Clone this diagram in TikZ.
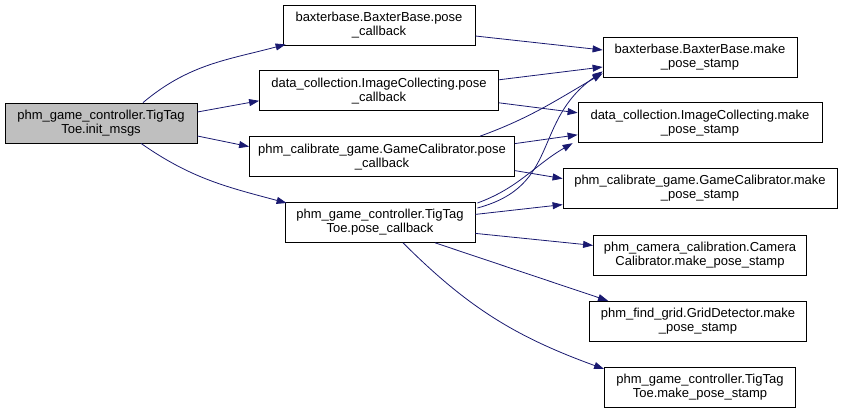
\documentclass[tikz,border=0pt]{standalone}
\usepackage{fontspec}
\setmainfont{Liberation Sans}
\usetikzlibrary{arrows.meta,positioning}
\definecolor{edgeBlue}{HTML}{191970}
\definecolor{rootGray}{HTML}{BFBFBF}
\tikzset{
  fnode/.style={draw=black, line width=0.8pt, align=center, font=\fontsize{13}{14}\selectfont, minimum height=40pt, inner sep=2pt, minimum width=#1},
  rootnode/.style={fnode=#1, fill=rootGray},
  calledge/.style={-{Triangle[length=10pt,width=7pt]}, draw=edgeBlue, line width=0.8pt},
}
\begin{document}
\begin{tikzpicture}[x=1pt, y=-1pt, node distance=25pt]
\useasboundingbox (0,0) rectangle (843,409);
\node[rootnode=192pt] (init) at (101,123) {phm\_game\_controller.TigTag\\Toe.init\_msgs};
% pose callbacks
\node[fnode=192pt] (bbcb) at (379,25) {baxterbase.BaxterBase.pose\\\_callback};
\node[fnode=239pt, below=of bbcb] (dccb) {data\_collection.ImageCollecting.pose\\\_callback};
\node[fnode=265pt, below=of dccb, xshift=3pt] (gccb) {phm\_calibrate\_game.GameCalibrator.pose\\\_callback};
\node[fnode=190pt, below=of gccb, xshift=-2pt] (ttcb) {phm\_game\_controller.TigTag\\Toe.pose\_callback};
% make_pose_stamp
\node[fnode=194pt] (bbmk) at (700,57) {baxterbase.BaxterBase.make\\\_pose\_stamp};
\node[fnode=244pt, below=of bbmk] (dcmk) {data\_collection.ImageCollecting.make\\\_pose\_stamp};
\node[fnode=274pt, below=of dcmk] (gcmk) {phm\_calibrate\_game.GameCalibrator.make\\\_pose\_stamp};
\node[fnode=213pt, below=26pt of gcmk] (ccmk) {phm\_camera\_calibration.Camera\\Calibrator.make\_pose\_stamp};
\node[fnode=217pt, below=of ccmk, xshift=-2pt] (gdmk) {phm\_find\_grid.GridDetector.make\\\_pose\_stamp};
\node[fnode=191pt, below=of gdmk, xshift=2pt] (ttmk) {phm\_game\_controller.TigTag\\Toe.make\_pose\_stamp};
% calls from init_msgs
\draw[calledge] ([xshift=42pt]init.north) to[out=40,in=195] ([xshift=3pt,yshift=1pt]bbcb.south west);
\draw[calledge] ([yshift=11pt]init.east) -- ([yshift=-10pt]dccb.west);
\draw[calledge] ([yshift=-13pt]init.east) -- ([yshift=10pt]gccb.west);
\draw[calledge] ([xshift=40pt]init.south) to[out=-35,in=165] ([xshift=2pt,yshift=-1pt]ttcb.north west);
% calls from pose callbacks
\draw[calledge] ([yshift=-11pt]bbcb.east) -- ([yshift=7pt]bbmk.west);
\draw[calledge] ([yshift=11pt]dccb.east) -- ([yshift=-10pt]bbmk.west);
\draw[calledge] ([yshift=-12pt]dccb.east) -- ([yshift=10pt]dcmk.west);
\draw[calledge] ([xshift=98pt]gccb.north) to[out=20,in=210] ([yshift=4pt]bbmk.south west);
\draw[calledge] ([yshift=13pt]gccb.east) -- ([yshift=-12pt]dcmk.west);
\draw[calledge] ([yshift=-14pt]gccb.east) -- ([yshift=10pt]gcmk.west);
\draw[calledge] ([xshift=2pt,yshift=-6pt]ttcb.north east) to[out=15,in=215,looseness=1.2] ([yshift=6pt]bbmk.south west);
\draw[calledge] ([xshift=2pt,yshift=-1pt]ttcb.north east) to[out=20,in=210] ([xshift=-5pt]dcmk.south west);
\draw[calledge] ([yshift=8pt]ttcb.east) -- ([yshift=-16pt]gcmk.west);
\draw[calledge] ([yshift=-11pt]ttcb.east) -- ([yshift=10pt]ccmk.west);
\draw[calledge] ([xshift=55pt]ttcb.south) -- ([xshift=19pt]gdmk.north west);
\draw[calledge] ([xshift=23pt]ttcb.south) to[out=-45,in=160] ([yshift=18pt]ttmk.west);
\end{tikzpicture}
\end{document}
